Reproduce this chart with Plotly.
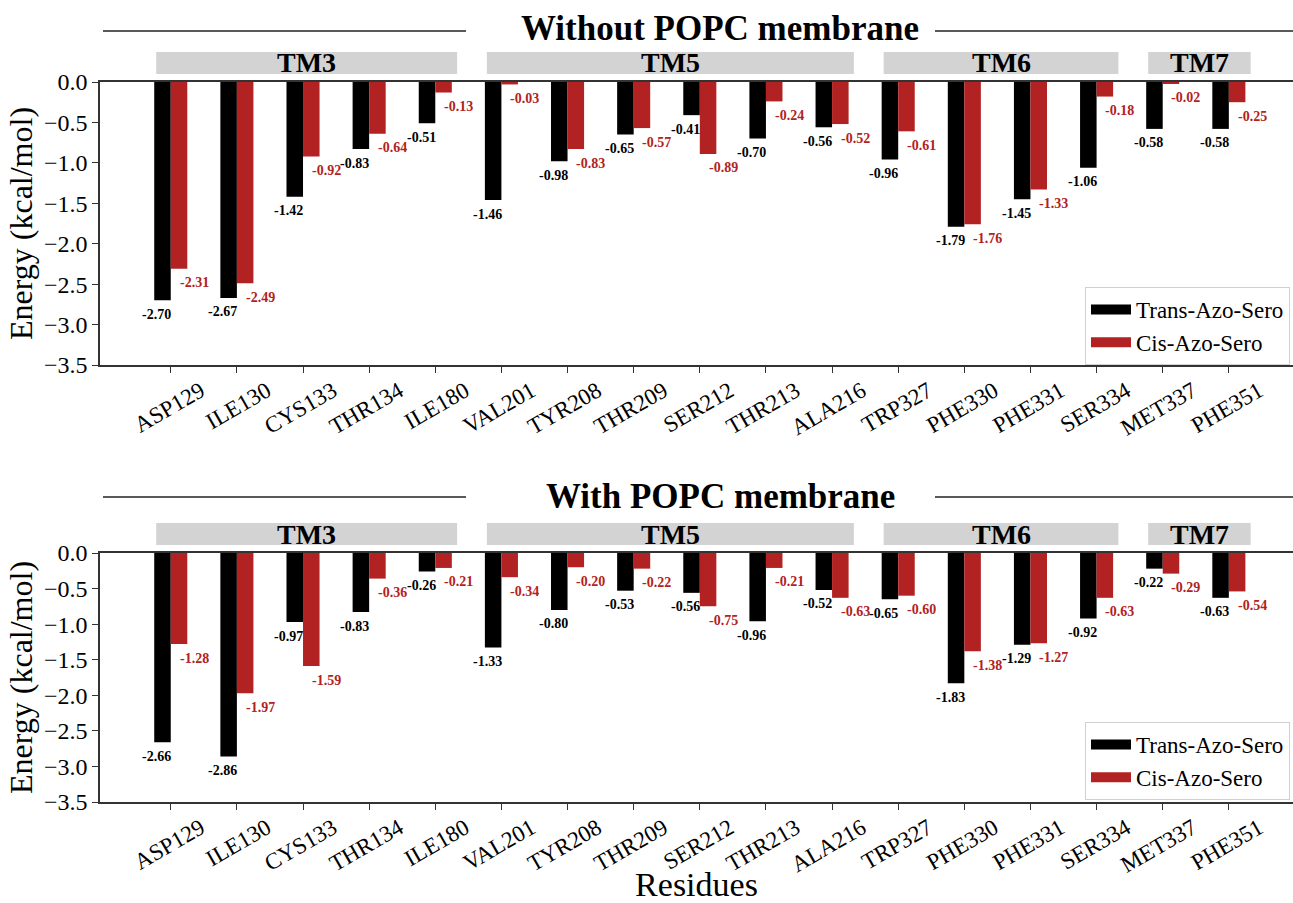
import plotly.graph_objects as go

residues = ["ASP129", "ILE130", "CYS133", "THR134", "ILE180", "VAL201", "TYR208",
            "THR209", "SER212", "THR213", "ALA216", "TRP327", "PHE330", "PHE331",
            "SER334", "MET337", "PHE351"]

trans_without = [-2.70, -2.67, -1.42, -0.83, -0.51, -1.46, -0.98, -0.65, -0.41,
                 -0.70, -0.56, -0.96, -1.79, -1.45, -1.06, -0.58, -0.58]
cis_without = [-2.31, -2.49, -0.92, -0.64, -0.13, -0.03, -0.83, -0.57, -0.89,
               -0.24, -0.52, -0.61, -1.76, -1.33, -0.18, -0.02, -0.25]

trans_with = [-2.66, -2.86, -0.97, -0.83, -0.26, -1.33, -0.80, -0.53, -0.56,
              -0.96, -0.52, -0.65, -1.83, -1.29, -0.92, -0.22, -0.63]
cis_with = [-1.28, -1.97, -1.59, -0.36, -0.21, -0.34, -0.20, -0.22, -0.75,
            -0.21, -0.63, -0.60, -1.38, -1.27, -0.63, -0.29, -0.54]

helix_names = ["TM3", "TM5", "TM6", "TM7"]
helix_first = [0, 5, 11, 15]
helix_last = [4, 10, 14, 16]

panel_titles = ["Without POPC membrane", "With POPC membrane"]
series_names = ["Trans-Azo-Sero", "Cis-Azo-Sero"]
colors = ["#000000", "#b22222"]

W, H = 1293, 903
L = 100
FONT = "Liberation Serif"
x = list(range(len(residues)))
BW = 0.25


def py(px):
    return 1 - px / H


def px_x(px):
    return (px - L) / (W - L)


fig = go.Figure()

panels = [
    dict(trans=trans_without, cis=cis_without, xa="x", ya="y", top=82, bot=365,
         title_y=28, line_y=31, legend="legend"),
    dict(trans=trans_with, cis=cis_with, xa="x2", ya="y2", top=553, bot=802,
         title_y=496, line_y=497, legend="legend2"),
]

annotations = []
shapes = []

for p in panels:
    for k, (vals, off) in enumerate([(p["trans"], -BW), (p["cis"], 0.0)]):
        fig.add_trace(go.Bar(
            x=x, y=vals, width=BW, offset=off, marker_color=colors[k],
            marker_line_width=0, showlegend=False, xaxis=p["xa"], yaxis=p["ya"],
            name=series_names[k]))
        for i, v in enumerate(vals):
            annotations.append(dict(
                x=i + off + BW / 2, y=v, xref=p["xa"], yref=p["ya"],
                text=f"<b>{v:.2f}</b>", showarrow=False,
                xshift=-6 if k == 0 else 15, yshift=-14,
                xanchor="center", yanchor="middle",
                font=dict(family=FONT, size=14, color=colors[k])))
        fig.add_trace(go.Scatter(
            x=[None], y=[None], mode="lines", name=series_names[k],
            line=dict(color=colors[k], width=14), xaxis=p["xa"], yaxis=p["ya"],
            legend=p["legend"], showlegend=True))

    # helix boxes
    h_px = p["bot"] - p["top"]
    y0d = 1 + 8 / h_px
    y1d = 1 + 30 / h_px
    for name, f, l in zip(helix_names, helix_first, helix_last):
        shapes.append(dict(type="rect", xref=p["xa"], yref=p["ya"] + " domain",
                           x0=f - 0.22, x1=l + 0.33, y0=y0d, y1=y1d,
                           fillcolor="#d3d3d3", line_width=0, layer="below"))
        annotations.append(dict(x=(f - 0.22 + l + 0.33) / 2, y=(y0d + y1d) / 2,
                                xref=p["xa"], yref=p["ya"] + " domain",
                                text=f"<b>{name}</b>", showarrow=False,
                                xanchor="center", yanchor="middle",
                                font=dict(family=FONT, size=28, color="black")))

# panel titles with side lines
for p, t in zip(panels, panel_titles):
    annotations.append(dict(x=px_x(720), y=py(p["title_y"]), xref="paper", yref="paper",
                            text=f"<b>{t}</b>", showarrow=False, xanchor="center",
                            yanchor="middle", font=dict(family=FONT, size=35, color="black")))
    for a, b in [(103, 466), (935, 1293)]:
        shapes.append(dict(type="line", xref="paper", yref="paper",
                           x0=px_x(a), x1=px_x(b), y0=py(p["line_y"]), y1=py(p["line_y"]),
                           line=dict(color="#222222", width=1.5)))

axis_common = dict(showline=True, linecolor="#333333", linewidth=1.5,
                   ticks="outside", ticklen=6, tickcolor="#333333", tickwidth=1.2,
                   showgrid=False, zeroline=False, automargin=False)

xcommon = dict(axis_common, range=[-1.07, 16.97], tickmode="array", tickvals=x,
               ticktext=residues, tickangle=-30, mirror=True, ticklabelshift=30,
               ticklabelstandoff=-4,
               tickfont=dict(family=FONT, size=23, color="black"))
ycommon = dict(axis_common, range=[-3.5, 0], dtick=0.5, tick0=0, tickformat=".1f",
               tickfont=dict(family=FONT, size=24, color="black"),
               title=dict(text="Energy (kcal/mol)", standoff=2,
                          font=dict(family=FONT, size=32, color="black")))

legend_common = dict(font=dict(family=FONT, size=23, color="black"),
                     bgcolor="white", bordercolor="#d0d0d0", borderwidth=1,
                     xref="paper", yref="paper", xanchor="right", yanchor="top",
                     itemwidth=40, tracegroupgap=0)

fig.update_layout(
    width=W, height=H,
    margin=dict(l=L, r=0, t=0, b=0, pad=0),
    paper_bgcolor="white", plot_bgcolor="white",
    font=dict(family=FONT, color="black"),
    barmode="overlay",
    xaxis=dict(xcommon, anchor="y", domain=[0, 1]),
    yaxis=dict(ycommon, anchor="x", domain=[py(panels[0]["bot"]), py(panels[0]["top"])]),
    xaxis2=dict(xcommon, anchor="y2", domain=[0, 1],
                title=dict(text="Residues", standoff=10,
                           font=dict(family=FONT, size=34, color="black"))),
    yaxis2=dict(ycommon, anchor="x2", domain=[py(panels[1]["bot"]), py(panels[1]["top"])]),
    legend=dict(legend_common, x=px_x(1290), y=py(287)),
    legend2=dict(legend_common, x=px_x(1290), y=py(722)),
    annotations=annotations,
    shapes=shapes,
)

fig.write_html("out.html", config={"displayModeBar": False},
               post_script="document.body.style.margin='0';")
